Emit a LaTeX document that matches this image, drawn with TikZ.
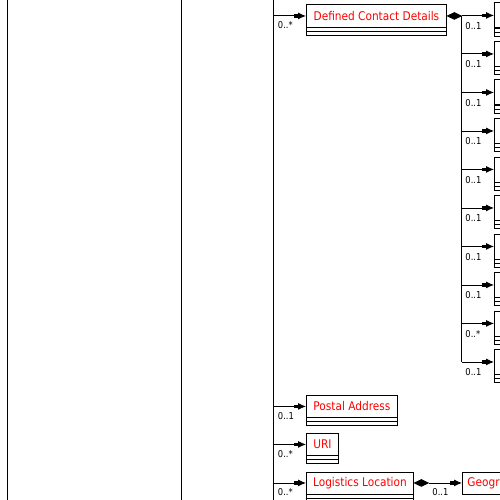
\documentclass[tikz,border=0pt]{standalone}
\usepackage{fontspec}
\setmainfont{DejaVu Sans}[FakeStretch=0.88]
\usetikzlibrary{arrows.meta,shapes.geometric}
\newcommand\UmlBox[6]{%
  \node[namebox, minimum width=#4pt, minimum height=#5pt] (#1) at (#2,#3) {#6};
  \draw (#1.south west) rectangle ++(#4,4) ++(-#4,0) rectangle ++(#4,4);}
\begin{document}
\begin{tikzpicture}[x=1pt,y=-1pt, line width=0.9pt,
  namebox/.style={draw, anchor=north west, inner sep=0pt, text=red, font=\fontsize{12}{14}\selectfont},
  mult/.style={anchor=west, inner sep=0pt, font=\fontsize{9.5}{10}\selectfont},
  assoc/.style={-{Rectangle[length=4pt,width=3.5pt,sep=0pt]Latex[length=8pt,width=7pt,sep=0pt]}},
  agg/.style={diamond, fill, draw, aspect=2, minimum width=14pt, minimum height=7pt, inner sep=0pt, anchor=west}]
\useasboundingbox (0,0) rectangle (500,500);
\clip (0,0) rectangle (500,500);
% frame lines
\coordinate (l0) at (7,0); \coordinate (l1) at (7,500);
\coordinate (m0) at (181,0); \coordinate (m1) at (181,500);
\coordinate (t0) at (273,0); \coordinate (t1) at (273,500);
\draw (l0) -- (l1); \draw (m0) -- (m1); \draw (t0) -- (t1);
% Defined Contact Details
\UmlBox{dcd}{306}{4}{140}{23}{Defined Contact Details}
\draw[assoc] (dcd.west -| t0) -- (dcd.west);
\node[mult] at (277.5,25) {0..*};
\node[agg] (d1) at (dcd.east) {};
\foreach \y/\m [count=\i] in {15/0..1,53.5/0..1,92/0..1,130.5/0..1,169/0..1,207.5/0..1,246/0..1,284.5/0..1,323/0..*,361.5/0..1}{
  \UmlBox{c\i}{494}{\y-12.5}{40}{25}{}
  \draw[assoc] (c\i.west -| d1.east) -- (c\i.west);
  \node[mult] at (465,\y+11) {\m};
}
\draw (d1.east) -- (d1.east |- c10.west);
% Postal Address
\UmlBox{pa}{306}{395}{91}{22}{Postal Address}
\draw[assoc] (pa.west -| t0) -- (pa.west);
\node[mult] at (277.5,416) {0..1};
% URI
\UmlBox{uri}{306}{433}{32}{22}{URI}
\draw[assoc] (uri.west -| t0) -- (uri.west);
\node[mult] at (277.5,454) {0..*};
% Logistics Location
\UmlBox{ll}{306}{471.5}{107}{22}{Logistics Location}
\draw[assoc] (ll.west -| t0) -- (ll.west);
\node[mult] at (277.5,492.5) {0..*};
\node[agg] (d2) at (ll.east) {};
\node[namebox, minimum height=22pt, text width=55pt, align=left, inner xsep=5pt] (geo) at (462,471.5) {Geogr};
\draw[assoc] (d2.east) -- (geo.west);
\node[mult] at (432,492.5) {0..1};
\end{tikzpicture}
\end{document}
